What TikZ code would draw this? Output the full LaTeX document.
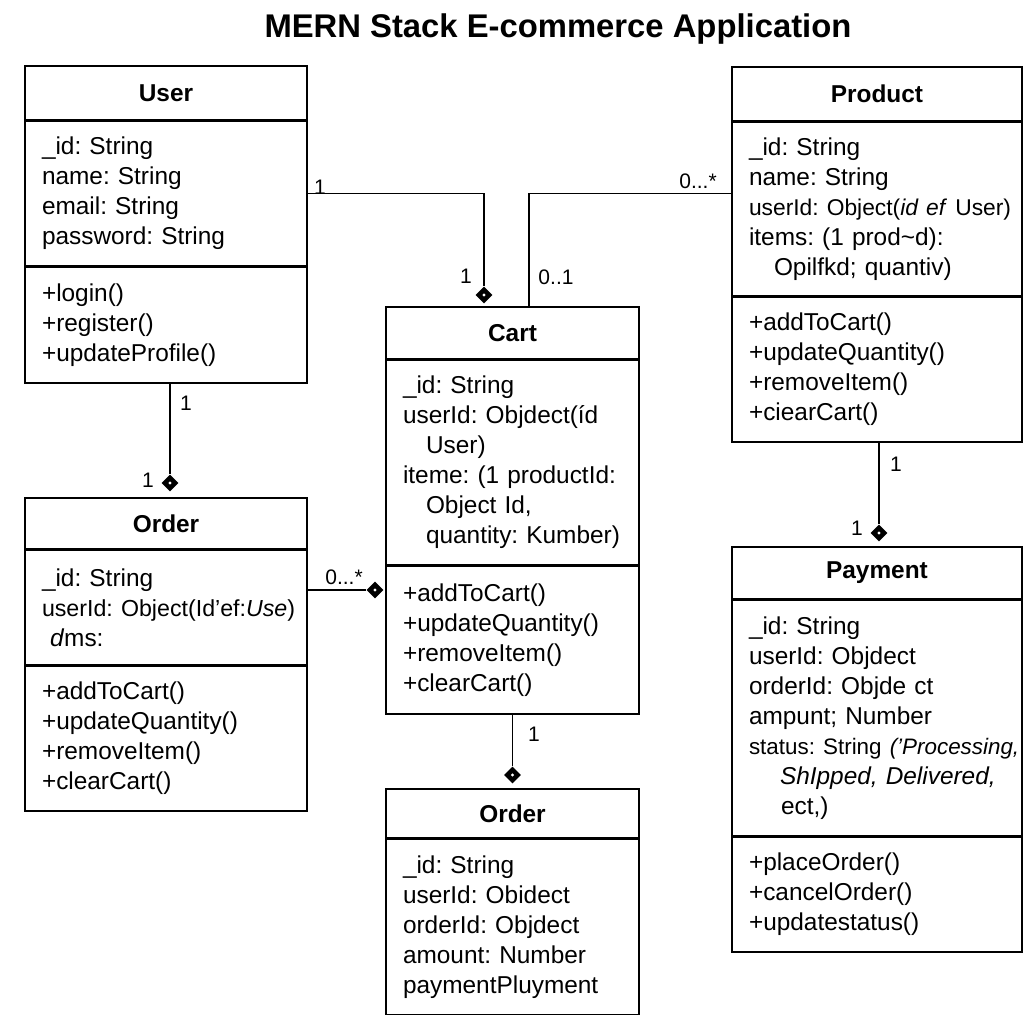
\documentclass[tikz,border=0pt]{standalone}
\usepackage{fontspec}
\setmainfont{Liberation Sans}
\usetikzlibrary{positioning,shapes.geometric}
\frenchspacing

\begin{document}
\begin{tikzpicture}[x=0.5pt,y=-0.5pt,
	every node/.style={font=\fontsize{12.2}{15}\selectfont},
	head/.style={draw,line width=.75pt,font=\fontsize{12.2}{15}\selectfont\bfseries},
	part/.style={draw,line width=.75pt,align=left,inner xsep=8.5pt,inner ysep=0pt,
		execute at begin node={\hyphenpenalty=10000\exhyphenpenalty=10000}},
	agg/.style={diamond,fill=black,inner sep=0pt,minimum size=8.5pt,
		path picture={\fill[white] (path picture bounding box.center) circle (.8pt);}},
	mult/.style={font=\fontsize{10.5}{12}\selectfont},
	link/.style={line width=.6pt}]
			\useasboundingbox (0,0) rectangle (1024,1024);
			\node[font=\fontsize{16.4}{20}\selectfont\bfseries] (title) at (558,29) {MERN Stack E-commerce Application};

			% User
			\node[head,minimum width=141pt,minimum height=27pt] (user) at (166,93) {User};
			\node[part,text width=124pt,minimum height=72pt,below=0pt of user] (ua) {\_id: String \\ name: String \\ email: String \\ password: String};
			\node[part,text width=124pt,minimum height=58pt,below=0pt of ua] (um) {+login() \\ +register() \\ +updateProfile()};

			% Product
			\node[head,minimum width=145pt,minimum height=27pt] (product) at (877,94) {Product};
			\node[part,text width=128pt,minimum height=86.5pt,below=0pt of product] (pa) {\_id: String \\ name: String \\ \mbox{\fontsize{11.4}{15}\selectfont userId: Object(\textit{id ef} User)} \\ items: (1 prod\textasciitilde d): \\ \hspace*{12.5pt}Opilfkd; quantiv)};
			\node[part,text width=128pt,minimum height=72.5pt,below=0pt of pa] (pm) {+addToCart() \\ +updateQuantity() \\ +removeItem() \\ +ciearCart()};

			% Cart
			\node[head,minimum width=126.5pt,minimum height=26pt] (cart) at (512.5,333) {Cart};
			\node[part,text width=109.5pt,minimum height=102pt,below=0pt of cart] (ca) {\_id: String \\ \mbox{userId: Objdect(íd} \\ \hspace*{11.5pt}User) \\ \mbox{iteme: (1 productId:} \\ \hspace*{11.5pt}Object Id, \\ \hspace*{11.5pt}\mbox{quantity: Kumber)}};
			\node[part,text width=109.5pt,minimum height=74pt,below=0pt of ca] (cm) {+addToCart() \\ +updateQuantity() \\ +removeItem() \\ +clearCart()};

			% Order (left)
			\node[head,minimum width=141pt,minimum height=25.5pt] (order) at (166,523.5) {Order};
			\node[part,text width=124pt,minimum height=57pt,below=0pt of order] (oa) {\_id: String \\ \mbox{\fontsize{11.6}{15}\selectfont userId: Object(Id'ef:\textit{Use})} \\ \hspace*{4pt}\textit{d}ms:};
			\node[part,text width=124pt,minimum height=72.5pt,below=0pt of oa] (om) {+addToCart() \\ +updateQuantity() \\ +removeItem() \\ +clearCart()};

			% Order (bottom)
			\node[head,minimum width=126.5pt,minimum height=24.5pt] (order2) at (512.5,813.5) {Order};
			\node[part,text width=109.5pt,minimum height=87.5pt,below=0pt of order2] (o2a) {\_id: String \\ userId: Obidect \\ orderId: Objdect \\ amount: Number \\ paymentPluyment};

			% Payment
			\node[head,minimum width=145pt,minimum height=26pt] (payment) at (877,573) {Payment};
			\node[part,text width=128pt,minimum height=117.5pt,below=0pt of payment] (paya) {\_id: String \\ userId: Objdect \\ orderId: Objde ct \\ ampunt; Number \\ \mbox{\fontsize{11.2}{15}\selectfont status: String \textit{('Processing,}} \\ \hspace*{15.5pt}\textit{ShIpped, Delivered,} \\ \hspace*{16pt}ect,)};
			\node[part,text width=128pt,minimum height=57.5pt,below=0pt of paya] (paym) {+placeOrder() \\ +cancelOrder() \\ +updatestatus()};

			% aggregation ends
			\node[agg] (d1) at (484,295) {};
			\node[agg] (d2) at (170,483) {};
			\node[agg] (d3) at (375,590) {};
			\node[agg] (d4) at (512.5,775) {};
			\node[agg] (d5) at (879,533) {};

			\draw[link] (ua.east) -| (d1.north);
			\draw[link] (pa.west |- ua.east) -| ([xshift=8.25pt]cart.north);
			\draw[link] (d2.north |- um.south) -- (d2.north);
			\draw[link] (oa.east |- d3) -- (d3.west);
			\draw[link] (cm.south) -- (d4.north);
			\draw[link] (d5.north |- pm.south) -- (d5.north);

			% multiplicities
			\node[mult] at (320,187) {1};
			\node[mult] at (466,276) {1};
			\node[mult] at (698,181) {0...*};
			\node[mult] at (556,277) {0..1};
			\node[mult] at (186,403) {1};
			\node[mult] at (148,480) {1};
			\node[mult] at (344,577) {0...*};
			\node[mult] at (534,734) {1};
			\node[mult] at (896,464) {1};
			\node[mult] at (857,528) {1};
		\end{tikzpicture}
\end{document}
